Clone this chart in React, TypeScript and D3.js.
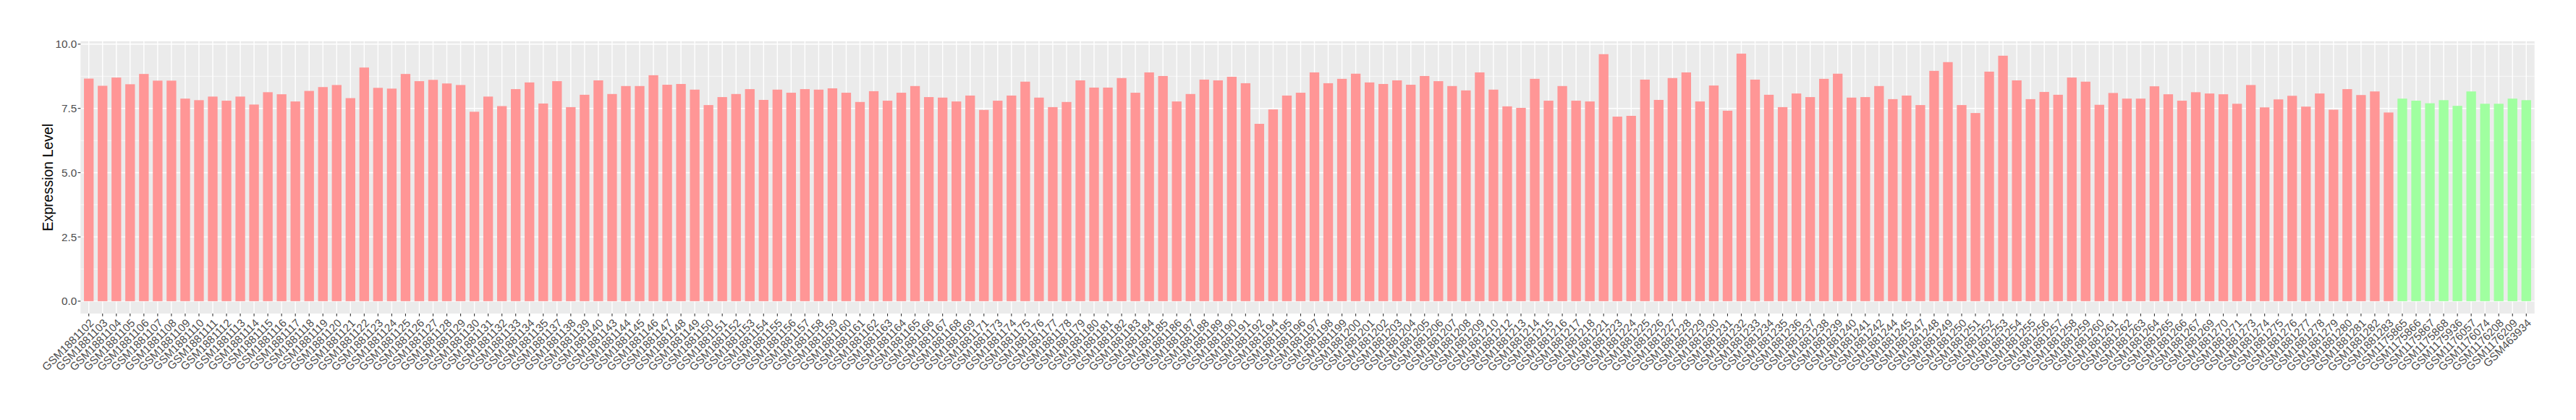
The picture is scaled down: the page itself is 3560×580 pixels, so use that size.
import React from "react";
import * as d3 from "d3";

const redSamples: string[] = [
  "GSM1881102","GSM1881103","GSM1881104","GSM1881105","GSM1881106","GSM1881107","GSM1881108","GSM1881109","GSM1881110","GSM1881111",
  "GSM1881112","GSM1881113","GSM1881114","GSM1881115","GSM1881116","GSM1881117","GSM1881118","GSM1881119","GSM1881120","GSM1881121",
  "GSM1881122","GSM1881123","GSM1881124","GSM1881125","GSM1881126","GSM1881127","GSM1881128","GSM1881129","GSM1881130","GSM1881131",
  "GSM1881132","GSM1881133","GSM1881134","GSM1881135","GSM1881137","GSM1881138","GSM1881139","GSM1881140","GSM1881143","GSM1881144",
  "GSM1881145","GSM1881146","GSM1881147","GSM1881148","GSM1881149","GSM1881150","GSM1881151","GSM1881152","GSM1881153","GSM1881154",
  "GSM1881155","GSM1881156","GSM1881157","GSM1881158","GSM1881159","GSM1881160","GSM1881161","GSM1881162","GSM1881163","GSM1881164",
  "GSM1881165","GSM1881166","GSM1881167","GSM1881168","GSM1881169","GSM1881171","GSM1881173","GSM1881174","GSM1881175","GSM1881176",
  "GSM1881177","GSM1881178","GSM1881179","GSM1881180","GSM1881181","GSM1881182","GSM1881183","GSM1881184","GSM1881185","GSM1881186",
  "GSM1881187","GSM1881188","GSM1881189","GSM1881190","GSM1881191","GSM1881192","GSM1881194","GSM1881195","GSM1881196","GSM1881197",
  "GSM1881198","GSM1881199","GSM1881200","GSM1881201","GSM1881202","GSM1881203","GSM1881204","GSM1881205","GSM1881206","GSM1881207",
  "GSM1881208","GSM1881209","GSM1881210","GSM1881212","GSM1881213","GSM1881214","GSM1881215","GSM1881216","GSM1881217","GSM1881218",
  "GSM1881221","GSM1881223","GSM1881224","GSM1881225","GSM1881226","GSM1881227","GSM1881228","GSM1881229","GSM1881230","GSM1881231",
  "GSM1881232","GSM1881233","GSM1881234","GSM1881235","GSM1881236","GSM1881237","GSM1881238","GSM1881239","GSM1881240","GSM1881241",
  "GSM1881242","GSM1881244","GSM1881245","GSM1881247","GSM1881248","GSM1881249","GSM1881250","GSM1881251","GSM1881252","GSM1881253",
  "GSM1881254","GSM1881255","GSM1881256","GSM1881257","GSM1881258","GSM1881259","GSM1881260","GSM1881261","GSM1881262","GSM1881263",
  "GSM1881264","GSM1881265","GSM1881266","GSM1881267","GSM1881269","GSM1881270","GSM1881271","GSM1881273","GSM1881274","GSM1881275",
  "GSM1881276","GSM1881277","GSM1881278","GSM1881279","GSM1881280","GSM1881281","GSM1881282","GSM1881283",
];

const redValues: number[] = [
  8.66, 8.38, 8.70, 8.44, 8.84, 8.58, 8.58, 7.88, 7.82, 7.96,
  7.80, 7.96, 7.65, 8.13, 8.05, 7.77, 8.18, 8.33, 8.41, 7.90,
  9.09, 8.30, 8.27, 8.84, 8.56, 8.61, 8.47, 8.41, 7.37, 7.96,
  7.59, 8.25, 8.51, 7.69, 8.56, 7.55, 8.03, 8.59, 8.06, 8.37,
  8.37, 8.79, 8.42, 8.45, 8.23, 7.63, 7.94, 8.06, 8.25, 7.83,
  8.23, 8.11, 8.25, 8.23, 8.28, 8.11, 7.75, 8.17, 7.80, 8.11,
  8.37, 7.94, 7.92, 7.77, 8.00, 7.44, 7.80, 8.00, 8.54, 7.92,
  7.55, 7.75, 8.59, 8.31, 8.31, 8.68, 8.11, 8.90, 8.76, 7.77,
  8.06, 8.62, 8.59, 8.73, 8.48, 6.90, 7.46, 8.00, 8.11, 8.90,
  8.48, 8.65, 8.85, 8.51, 8.45, 8.59, 8.42, 8.76, 8.56, 8.37,
  8.20, 8.90, 8.23, 7.58, 7.52, 8.65, 7.80, 8.37, 7.80, 7.77,
  9.61, 7.18, 7.21, 8.62, 7.83, 8.68, 8.90, 7.77, 8.39, 7.41,
  9.63, 8.62, 8.03, 7.55, 8.08, 7.94, 8.65, 8.85, 7.92, 7.94,
  8.37, 7.86, 8.00, 7.63, 8.96, 9.30, 7.63, 7.32, 8.93, 9.55,
  8.59, 7.86, 8.14, 8.03, 8.70, 8.54, 7.64, 8.10, 7.88, 7.88,
  8.36, 8.05, 7.80, 8.13, 8.08, 8.05, 7.68, 8.41, 7.54, 7.85,
  7.99, 7.57, 8.08, 7.45, 8.25, 8.02, 8.16, 7.34,
];

const greenSamples: string[] = [
  "GSM1175865","GSM1175866","GSM1175867","GSM1175868","GSM1175936",
  "GSM1176057","GSM1176074","GSM1176208","GSM1176209","GSM463934",
];

const greenValues: number[] = [7.88, 7.80, 7.70, 7.82, 7.60, 8.16, 7.68, 7.68, 7.88, 7.82];

const yTicks: number[] = [0, 2.5, 5, 7.5, 10];
const yMinorTicks: number[] = [1.25, 3.75, 6.25, 8.75];
const yTitle = "Expression Level";

const RED = "#FF9696";
const GREEN = "#A0FFA0";

type Row = { name: string; value: number; color: string };

const rows: Row[] = [
  ...redSamples.map((name, i) => ({ name, value: redValues[i], color: RED })),
  ...greenSamples.map((name, i) => ({ name, value: greenValues[i], color: GREEN })),
];

const W = 3560;
const H = 580;
const panel = { left: 111.3, right: 3502.7, top: 57, bottom: 433 };
const FONT = "'Liberation Sans', Arial, Helvetica, sans-serif";
const TICK_FONT = 15.3;

export default function App() {
  const x = d3
    .scaleBand<string>()
    .domain(rows.map((r) => r.name))
    .range([panel.left, panel.right])
    .paddingInner(0.3)
    .paddingOuter(0.25);

  const maxV = d3.max(rows, (r) => r.value) as number;
  const expand = maxV * 0.05;
  const y = d3
    .scaleLinear()
    .domain([-expand, maxV + expand])
    .range([panel.bottom, panel.top]);

  const bw = x.bandwidth();
  const center = (n: string) => (x(n) as number) + bw / 2;

  return (
    <svg
      width={W}
      height={H}
      style={{ position: "absolute", left: 0, top: 0, background: "#fff" }}
      fontFamily={FONT}
    >
      <rect x={0} y={0} width={W} height={H} fill="#fff" />
      <rect
        x={panel.left}
        y={panel.top}
        width={panel.right - panel.left}
        height={panel.bottom - panel.top}
        fill="#EBEBEB"
      />
      {yMinorTicks.map((t) => (
        <line key={"ym" + t} x1={panel.left} x2={panel.right} y1={y(t)} y2={y(t)} stroke="#fff" strokeWidth={0.7} />
      ))}
      {yTicks.map((t) => (
        <line key={"yM" + t} x1={panel.left} x2={panel.right} y1={y(t)} y2={y(t)} stroke="#fff" strokeWidth={1.4} />
      ))}
      {rows.map((r) => (
        <line key={"xg" + r.name} x1={center(r.name)} x2={center(r.name)} y1={panel.top} y2={panel.bottom} stroke="#fff" strokeWidth={1.4} />
      ))}
      {rows.map((r) => (
        <rect
          key={"b" + r.name}
          x={x(r.name)}
          y={y(Math.max(0, r.value))}
          width={bw}
          height={Math.abs(y(r.value) - y(0))}
          fill={r.color}
        />
      ))}
      {yTicks.map((t) => (
        <g key={"yt" + t}>
          <line x1={panel.left - 3.7} x2={panel.left} y1={y(t)} y2={y(t)} stroke="#333" strokeWidth={1.1} />
          <text
            x={panel.left - 5}
            y={y(t)}
            dy="0.36em"
            textAnchor="end"
            fontSize={TICK_FONT}
            fill="#4D4D4D"
          >
            {d3.format(".1f")(t)}
          </text>
        </g>
      ))}
      {rows.map((r) => (
        <g key={"xt" + r.name}>
          <line x1={center(r.name)} x2={center(r.name)} y1={panel.bottom} y2={panel.bottom + 3.7} stroke="#333" strokeWidth={1.1} />
          <text
            transform={`translate(${center(r.name)},${panel.bottom + 6.3}) rotate(-45)`}
            textAnchor="end"
            dy="0.72em"
            fontSize={TICK_FONT}
            fill="#4D4D4D"
          >
            {r.name}
          </text>
        </g>
      ))}
      <text
        transform={`translate(72.5,${(panel.top + panel.bottom) / 2}) rotate(-90)`}
        textAnchor="middle"
        fontSize={19.5}
        fill="#000"
      >
        {yTitle}
      </text>
    </svg>
  );
}
